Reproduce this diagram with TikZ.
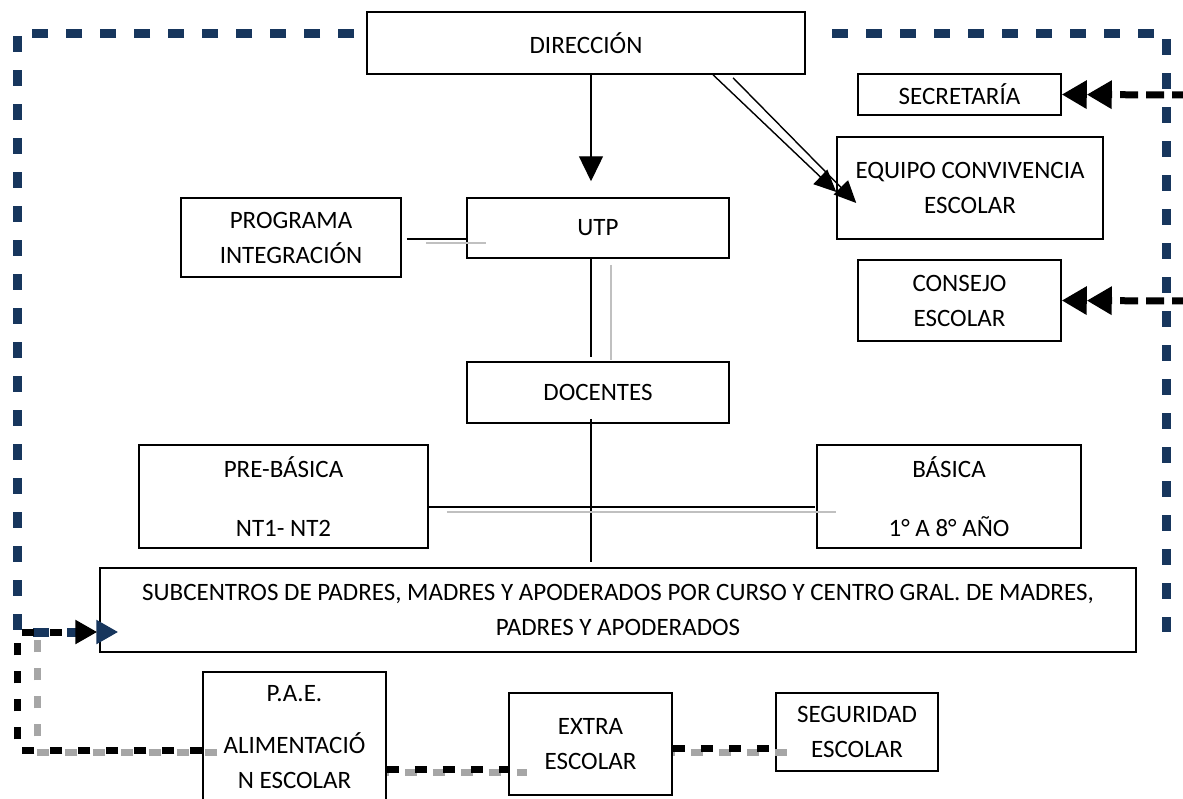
\documentclass[tikz,border=0pt]{standalone}
\usepackage{fontspec}
\setmainfont{Carlito}
\usetikzlibrary{arrows.meta,calc}
\definecolor{navyc}{HTML}{17365D}
\definecolor{grayc}{HTML}{A6A6A6}
\definecolor{lgray}{HTML}{C0C0C0}
\begin{document}
\begin{tikzpicture}[x=1pt,y=-1pt,
  box/.style={draw, line width=1.5pt, fill=white, inner sep=0pt, align=center,
    font=\fontsize{25}{35}\selectfont},
  conn/.style={line width=1.4pt, black},
  gconn/.style={line width=1.6pt, lgray},
  navyd/.style={navyc, line width=9pt, dash pattern=on 16pt off 18pt},
  blkd/.style={black, line width=7pt, dash pattern=on 12pt off 16pt},
  gryd/.style={grayc, line width=7pt, dash pattern=on 12pt off 16pt},
  tip/.style={-{Triangle[length=22pt,width=23pt]}}
]
\useasboundingbox (0,0) rectangle (1183,798);

% boxes
\node[box, minimum width=438pt, minimum height=62pt] (dir) at (586,43) {DIRECCIÓN};
\node[box, minimum width=203pt, minimum height=41pt] (sec) at (959.5,94.5) {SECRETARÍA};
\node[box, minimum width=266pt, minimum height=102pt] (equ) at (970,188) {EQUIPO CONVIVENCIA\\ESCOLAR};
\node[box, minimum width=203pt, minimum height=81pt] (con) at (959.5,300.5) {CONSEJO\\ESCOLAR};
\node[box, minimum width=220pt, minimum height=79pt] (prog) at (291,237.5) {PROGRAMA\\INTEGRACIÓN};
\node[box, minimum width=262pt, minimum height=60pt] (utp) at (598,228) {UTP};
\node[box, minimum width=262pt, minimum height=61pt] (doc) at (598,392.5) {DOCENTES};
\node[box, minimum width=289pt, minimum height=103pt] (pre) at (283.5,496.5) {PRE-BÁSICA\\[24pt]NT1- NT2};
\node[box, minimum width=264pt, minimum height=103pt] (bas) at (949,496.5) {BÁSICA\\[24pt]1° A 8° AÑO};
\node[box, minimum width=1036pt, minimum height=84pt] (sub) at (618,610) {SUBCENTROS DE PADRES, MADRES Y APODERADOS POR CURSO Y CENTRO GRAL. DE MADRES,\\PADRES Y APODERADOS};
\node[box, minimum width=183pt, minimum height=131pt] (pae) at (294.5,737.5) {P.A.E.\\[17pt]ALIMENTACIÓ\\N ESCOLAR};
\node[box, minimum width=163pt, minimum height=102pt] (ext) at (590.5,744) {EXTRA\\ESCOLAR};
\node[box, minimum width=162pt, minimum height=78pt] (seg) at (857,732) {SEGURIDAD\\ESCOLAR};

% free ends
\coordinate (nvL) at (354,33);
\coordinate (nvR) at (832,33);
\coordinate (nvRend) at (1166,632);
\coordinate (secR) at (1190,95);
\coordinate (conR) at (1190,301);
\coordinate (utpTip) at ($(utp.north)+(-7,-16)$);
\coordinate (docEnd) at ($(sub.north)+(-27,-5)$);

% solid connectors
\draw[conn,-{Triangle[length=25pt,width=24pt]}] ($(dir.south)+(5,0)$) -- (utpTip);
\draw[conn,-{Triangle[length=22pt,width=20pt]}] ($(dir.south)+(127,0)$) -- ($(equ.west)+(0,4)$);
\draw[conn,-{Triangle[length=22pt,width=20pt]}] ($(dir.south)+(147,3)$) -- ($(equ.west)+(20,15)$);

\draw[conn] ($(prog.east)+(5,1.5)$) -- ($(utp.west)+(0,11)$);
\draw[gconn] ($(prog.east)+(24,5.5)$) -- ($(utp.west)+(20,15)$);

\draw[conn] ($(utp.south)+(-7,0)$) -- ($(doc.north)+(-7,-4)$);
\draw[gconn] ($(utp.south)+(13,6)$) -- ($(doc.north)+(13,-1)$);

\draw[conn] ($(doc.south)+(-7,-5)$) -- (docEnd);
\draw[conn] ($(pre.east)+(-1,10.5)$) -- ($(bas.west)+(-1,10.5)$);
\draw[gconn] ($(pre.east)+(18,15.5)$) -- ($(bas.west)+(20,15.5)$);

% navy frame
\draw[navyd] (nvR) -- (1166,33) -- (nvRend);
\draw[navyd,-{Triangle[length=22pt,width=23pt]}] (nvL) -- (17,33) -- (17,632) -- ($(sub.west)+(19,22)$);

% black / gray dashed connectors
\draw[gryd] ($(pae.west)+(15,14.5)$) -- (37,752) -- (37,636);
\draw[blkd,tip] ($(pae.west)+(0,12.5)$) -- (17,750) -- (17,632) -- ($(sub.west)+(-2,22)$);

\draw[gryd,dash phase=-18pt] ($(pae.east)+(0,34.5)$) -- ($(ext.west)+(19,28)$);
\draw[blkd] ($(pae.east)+(0,31.5)$) -- ($(ext.west)+(0,25)$);
\draw[gryd,dash phase=-18pt] ($(ext.east)+(0,8)$) -- ($(seg.west)+(16,20)$);
\draw[blkd] ($(ext.east)+(0,4)$) -- ($(seg.west)+(0,16)$);

\draw[blkd,dash pattern=on 18pt off 8pt,-{Triangle[length=25pt,width=27pt]Triangle[length=25pt,width=27pt]}] (secR) -- (sec.east);
\draw[blkd,dash pattern=on 18pt off 8pt,-{Triangle[length=25pt,width=27pt]Triangle[length=25pt,width=27pt]}] (conR) -- (con.east);
\end{tikzpicture}
\end{document}
